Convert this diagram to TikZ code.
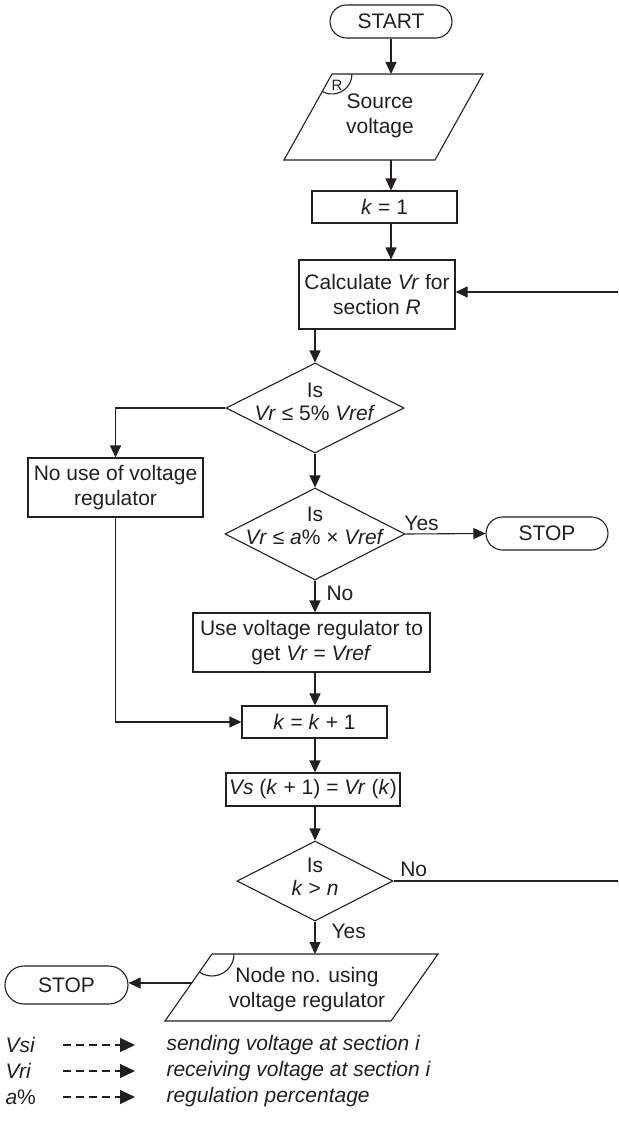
\documentclass[tikz,border=0pt]{standalone}
\usepackage{fontspec}
\setmainfont{Liberation Sans}
\usetikzlibrary{shapes.geometric,shapes.misc,arrows.meta}
\definecolor{ink}{RGB}{35,31,32}
\begin{document}
\begin{tikzpicture}[x=1pt,y=-1pt,color=ink,line width=1.1pt,
  font=\fontsize{21}{25}\selectfont,
  box/.style={draw,rectangle,inner sep=0pt,align=center},
  term/.style={draw,rounded rectangle,inner sep=0pt,minimum width=122pt,minimum height=33pt},
  dia/.style={draw,diamond,inner sep=0pt},
  arr/.style={-{Triangle[length=12pt,width=11pt]}},
  lbl/.style={inner sep=0pt,align=center},
  leg/.style={dash pattern=on 8pt off 5pt,-{Triangle[length=15pt,width=14pt]}}]
\useasboundingbox (0,0) rectangle (618,1126);

% START
\node[term] (start) at (391,21.5) {START};

% Parallelogram 1
\coordinate (p1tl) at (332,74);
\coordinate (p1tr) at (483,74);
\coordinate (p1br) at (435,160);
\coordinate (p1bl) at (284,160);
\draw (p1tl) -- (p1tr) -- (p1br) -- (p1bl) -- cycle;
\draw (p1tl) ++(119:20) arc[start angle=119,end angle=0,radius=20];
\node[lbl,font=\fontsize{15}{18}\selectfont] (rlab) at (337,85) {R};
\node[lbl] (p1) at (380,116) {Source\\voltage};
\coordinate (p1top) at (391,74);
\coordinate (p1bot) at (391,160);

% k = 1
\node[box,minimum width=145pt,minimum height=32pt] (k1) at (384.5,207) {\textit{k} = 1};

% Calculate
\node[box,minimum width=156pt,minimum height=69pt] (calc) at (377,294.5) {Calculate \textit{Vr} for\\section \textit{R}};

% Diamond 1
\node[dia,minimum width=178pt,minimum height=90pt] (d1) at (315,408) {};
\node[lbl,font=\fontsize{21}{23.5}\selectfont] (d1t) at (315,402) {Is\\\textit{Vr} ≤ 5\% \textit{Vref}};

% No use box
\node[box,minimum width=175pt,minimum height=59pt] (nouse) at (115.5,487.5) {No use of voltage\\regulator};

% Diamond 2
\node[dia,minimum width=180pt,minimum height=92pt] (d2) at (315,534) {};
\node[lbl,font=\fontsize{21}{23.5}\selectfont] (d2t) at (315,526) {Is\\\textit{Vr} ≤ \textit{a}\% × \textit{Vref}};

% STOP 1
\node[term] (stop1) at (547,533.5) {STOP};

% Use box
\node[box,minimum width=237pt,minimum height=59pt] (use) at (311.5,642.5) {Use voltage regulator to\\get \textit{Vr} = \textit{Vref}};

% k = k + 1
\node[box,minimum width=145pt,minimum height=32pt] (kk) at (314.5,722) {\textit{k} = \textit{k} + 1};

% Vs box
\node[box,minimum width=174pt,minimum height=33pt] (vs) at (313,789.5) {\textit{Vs} (\textit{k} + 1) = \textit{Vr} (\textit{k})};

% Diamond 3
\node[dia,minimum width=156pt,minimum height=80pt] (d3) at (315,881) {};
\node[lbl,font=\fontsize{21}{23.5}\selectfont] (d3t) at (315,877) {Is\\\textit{k} > \textit{n}};

% Parallelogram 2
\coordinate (p2tl) at (212,954);
\coordinate (p2tr) at (438,954);
\coordinate (p2br) at (391,1021);
\coordinate (p2bl) at (165,1021);
\draw (p2tl) -- (p2tr) -- (p2br) -- (p2bl) -- cycle;
\draw (p2tl) ++(125:22) arc[start angle=125,end angle=0,radius=22];
\node[lbl] (p2) at (307,989.5) {Node no. using\\voltage regulator};
\coordinate (p2top) at (315,954);
\coordinate (p2left) at (192.4,983);

% STOP 2
\node[term,minimum width=123pt,minimum height=38pt] (stop2) at (66.5,985) {STOP};

% right-side return stubs
\coordinate (r1) at (618,881);
\coordinate (r2) at (618,292);

% connectors
\draw[arr] (start.south -| p1top) -- (p1top);
\draw[arr] (p1bot) -- (p1bot |- k1.north);
\draw[arr] (k1.south -| p1bot) -- (calc.north -| p1bot);
\draw[arr] (calc.south -| d1.north) -- (d1.north);
\draw[arr] (d1.west) -| (nouse.north);
\draw[arr] (d1.south) -- (d2.north);
\draw[arr] (d2.east) -- (stop1.west) node[lbl,pos=0.2,above=3pt] (yes1) {Yes};
\draw[arr] (d2.south) -- (d2.south |- use.north) node[lbl,pos=0.4,right=11pt] (no1) {No};
\draw[arr] (use.south -| d2.south) -- (kk.north -| d2.south);
\draw[arr] (nouse.south) |- (kk.west);
\draw[arr] (kk.south -| d2.south) -- (vs.north -| d2.south);
\draw[arr] (vs.south -| d3.north) -- (d3.north);
\draw (d3.east) -- (r1) node[lbl,pos=0.09,above=4pt] (no2) {No};
\draw[arr] (r2) -- (r2 -| calc.east);
\draw[arr] (d3.south) -- (p2top) node[lbl,pos=0.3,right=16pt] (yes2) {Yes};
\draw[arr] (p2left) -- (p2left -| stop2.east);

% legend
\node[lbl,anchor=west] (v1) at (5,1045) {\textit{Vsi}};
\node[lbl,anchor=west] (v2) at (5,1071) {\textit{Vri}};
\node[lbl,anchor=west] (v3) at (5,1097) {\textit{a}\%};
\coordinate (a1s) at (63,1045); \coordinate (a1e) at (135,1045);
\coordinate (a2s) at (63,1071); \coordinate (a2e) at (135,1071);
\coordinate (a3s) at (63,1097); \coordinate (a3e) at (135,1097);
\draw[leg] (a1s) -- (a1e);
\draw[leg] (a2s) -- (a2e);
\draw[leg] (a3s) -- (a3e);
\node[lbl,anchor=west] (t1) at (166,1045) {\textit{sending voltage at section i}};
\node[lbl,anchor=west] (t2) at (166,1071) {\textit{receiving voltage at section i}};
\node[lbl,anchor=west] (t3) at (166,1097) {\textit{regulation percentage}};
\end{tikzpicture}
\end{document}
